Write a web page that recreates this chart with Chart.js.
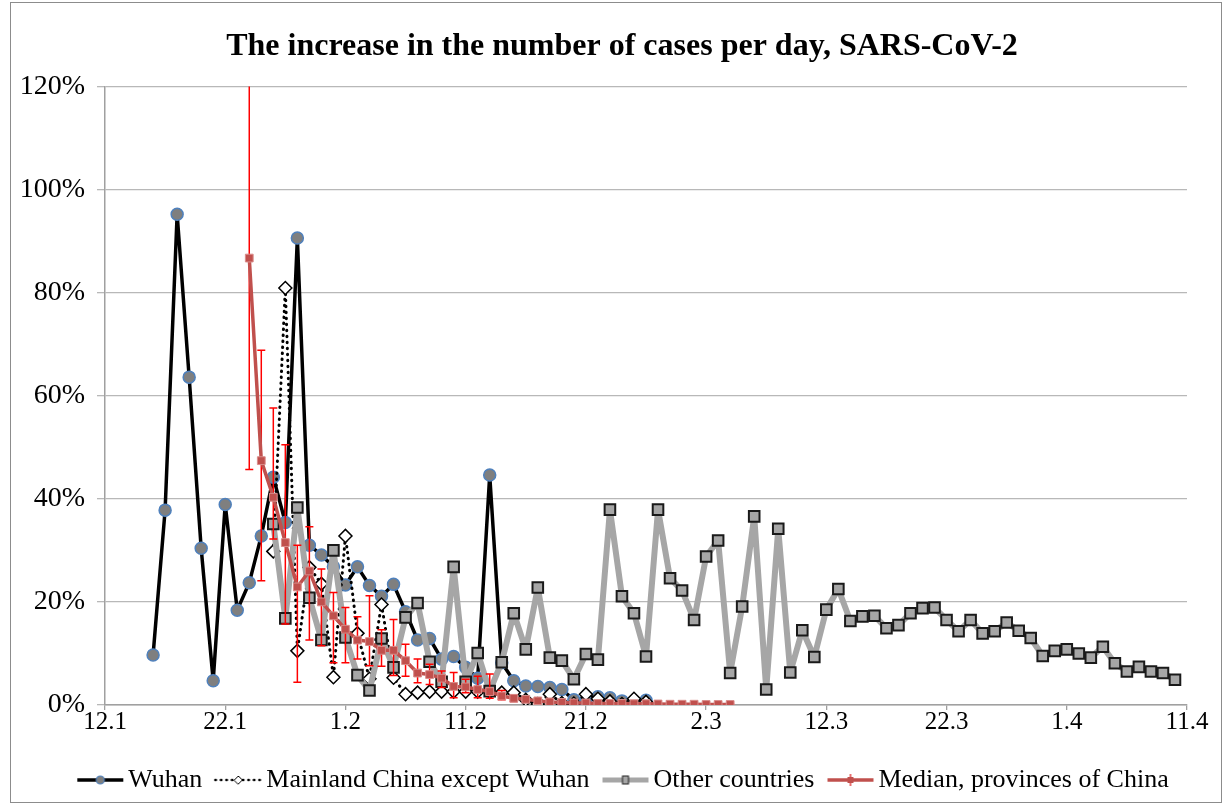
<!DOCTYPE html>
<html>
<head>
<meta charset="utf-8">
<script src="https://cdn.jsdelivr.net/npm/chart.js@4.4.0/dist/chart.umd.min.js"></script>
<style>
  html, body { margin: 0; padding: 0; background: #fff; }
  #wrap { position: relative; width: 1232px; height: 805px; }
  #frame { position: absolute; left: 10px; top: 2px; width: 1212px; height: 801px;
           border: 1px solid #8c8c8c; box-sizing: border-box; pointer-events: none; }
</style>
</head>
<body>
<div id="wrap">
  <canvas id="chart" width="1232" height="805"></canvas>
  <div id="frame"></div>
</div>
<script>
// x axis = days counted from 12.1 (12 January), one label every 10 days
const tickLabels = ["12.1", "22.1", "1.2", "11.2", "21.2", "2.3", "12.3", "22.3", "1.4", "11.4"];

// Wuhan, from day 4 (16.1)
const wuhanStart = 4;
const wuhan = [9.7, 37.8, 95.2, 63.6, 30.4, 4.7, 38.9, 18.4, 23.7, 32.8,
  44.2, 35.4, 90.6, 31.0, 29.1, 26.8, 23.3, 26.8, 23.2, 21.1,
  23.4, 18.1, 12.6, 12.9, 8.9, 9.4, 7.3, 5.2, 44.6, 8.2,
  4.7, 3.7, 3.6, 3.4, 3.0, 1.0, 0.7, 1.6, 1.4, 0.8, 0.6, 0.9];

// Mainland China except Wuhan, from day 14 (26.1)
const chinaStart = 14;
const china = [29.8, 80.9, 10.5, 26.7, 23.5, 5.4, 32.8, 13.9, 5.1, 19.5,
  5.3, 2.1, 2.4, 2.6, 2.6, 2.6, 2.6, 2.6, 2.5, 2.4,
  2.4, 1.0, 0.2, 2.1, 0.4, 0.3, 2.1, 1.2, 0.7, 0.2, 1.2, 0.6];

// Other countries, from day 14 (26.1)
const otherStart = 14;
const other = [35.1, 16.8, 38.3, 20.8, 12.6, 30.0, 13.1, 5.8, 2.8, 12.9,
  7.3, 17.0, 19.8, 8.4, 4.5, 26.8, 4.5, 10.1, 2.7, 8.3,
  17.8, 10.8, 22.8, 9.2, 8.6, 5.0, 9.9, 8.8, 37.9, 21.1,
  17.8, 9.4, 37.9, 24.6, 22.2, 16.5, 28.8, 31.9, 6.2, 19.1,
  36.6, 3.0, 34.2, 6.3, 14.5, 9.3, 18.5, 22.5, 16.3, 17.2,
  17.3, 14.9, 15.5, 17.8, 18.8, 18.9, 16.5, 14.3, 16.5, 13.9,
  14.3, 16.0, 14.4, 13.0, 9.5, 10.5, 10.8, 10.0, 9.2, 11.3,
  8.1, 6.5, 7.4, 6.5, 6.2, 4.9];

// Median of the provinces of China, from day 12 (24.1), with error bar ends
const medianStart = 12;
const median = [86.7, 47.4, 40.3, 31.5, 22.9, 26.0, 20.0, 17.3, 14.7, 12.6,
  12.3, 10.6, 10.6, 8.6, 6.2, 5.9, 5.2, 3.6, 3.5, 3.0,
  2.6, 1.75, 1.3, 1.1, 0.8, 0.6, 0.5, 0.4, 0.4, 0.3,
  0.3, 0.3, 0.25, 0.25, 0.2, 0.15, 0.15, 0.15, 0.1, 0.1, 0.1];
const medianLow = [45.7, 24.1, 32.2, 15.7, 4.4, 12.6, 11.5, 8.2, 8.2, 8.9,
  7.6, 7.5, 5.7, 5.6, 4.3, 4.0, 3.4, 1.4, 2.4, 1.4,
  1.3, 1.0, 0.7, 0.6, 0.5, 0.3, 0.3, 0.2, 0.2, 0.2,
  0.2, 0.2, 0.1, 0.1, 0.1, 0.1, 0.1, 0.1, 0.0, 0.0, 0.0];
const medianHigh = [135, 68.8, 57.6, 50.5, 31.0, 34.6, 26.4, 21.8, 18.9, 17.1,
  21.2, 14.6, 16.6, 11.8, 8.9, 7.9, 6.6, 6.3, 5.0, 5.6,
  6.0, 2.8, 2.0, 1.6, 1.2, 0.9, 0.8, 0.7, 0.6, 0.5,
  0.5, 0.4, 0.4, 0.4, 0.3, 0.3, 0.2, 0.2, 0.2, 0.2, 0.2];

const serif = "'Liberation Serif', 'Times New Roman', serif";

function toPoints(start, values) {
  return values.map((v, i) => ({ x: start + i, y: v }));
}

// small line+marker samples for the legend, like the spreadsheet legend
function legendIcon(drawMarker, lineStyle) {
  const c = document.createElement("canvas");
  c.width = 64;
  c.height = 20;
  const g = c.getContext("2d");
  g.strokeStyle = lineStyle.color;
  g.lineWidth = lineStyle.width;
  if (lineStyle.dash) {
    g.setLineDash(lineStyle.dash);
    g.lineCap = "round";
  }
  g.beginPath();
  g.moveTo(14, 10);
  g.lineTo(60, 10);
  g.stroke();
  g.setLineDash([]);
  drawMarker(g, 37, 10);
  return c;
}

const icons = [
  legendIcon((g, x, y) => {
    g.beginPath(); g.arc(x, y, 4, 0, Math.PI * 2);
    g.fillStyle = "#7f7f7f"; g.fill();
    g.strokeStyle = "#4f81bd"; g.lineWidth = 1.2; g.stroke();
  }, { color: "#000", width: 3.5 }),
  legendIcon((g, x, y) => {
    g.beginPath(); g.moveTo(x - 4, y); g.lineTo(x, y - 4); g.lineTo(x + 4, y); g.lineTo(x, y + 4); g.closePath();
    g.fillStyle = "#fff"; g.fill();
    g.strokeStyle = "#000"; g.lineWidth = 1; g.stroke();
  }, { color: "#000", width: 2.5, dash: [0.5, 5] }),
  legendIcon((g, x, y) => {
    g.fillStyle = "#a6a6a6"; g.fillRect(x - 3, y - 4, 6, 8);
    g.strokeStyle = "#222"; g.lineWidth = 1; g.strokeRect(x - 3, y - 4, 6, 8);
  }, { color: "#a6a6a6", width: 5 }),
  legendIcon((g, x, y) => {
    g.strokeStyle = "#e04040"; g.lineWidth = 1.5;
    g.beginPath(); g.moveTo(x, y - 6); g.lineTo(x, y + 6); g.stroke();
    g.fillStyle = "#c0504d"; g.fillRect(x - 3, y - 3, 6, 6);
  }, { color: "#c0504d", width: 3.5 })
];

// red error bars of the median, drawn just before the median series
const errorBars = {
  id: "errorBars",
  afterDatasetDraw(chart, args) {
    if (args.index !== 2) return;
    const { ctx, chartArea, scales } = chart;
    const x = scales.x, y = scales.y;
    ctx.save();
    ctx.beginPath();
    ctx.rect(chartArea.left, chartArea.top, chartArea.right - chartArea.left, chartArea.bottom - chartArea.top);
    ctx.clip();
    ctx.strokeStyle = "#ff0000";
    ctx.lineWidth = 1.5;
    median.forEach((m, i) => {
      const px = x.getPixelForValue(medianStart + i);
      const top = y.getPixelForValue(medianHigh[i]);
      const bot = y.getPixelForValue(medianLow[i]);
      ctx.beginPath();
      ctx.moveTo(px, top); ctx.lineTo(px, bot);
      ctx.moveTo(px - 4, top); ctx.lineTo(px + 4, top);
      ctx.moveTo(px - 4, bot); ctx.lineTo(px + 4, bot);
      ctx.stroke();
    });
    ctx.restore();
  }
};

Chart.defaults.font.family = serif;
Chart.defaults.color = "#000";

new Chart(document.getElementById("chart"), {
  type: "line",
  data: {
    datasets: [
      {
        label: "Wuhan",
        data: toPoints(wuhanStart, wuhan),
        borderColor: "#000",
        borderWidth: 3.5,
        borderJoinStyle: "round",
        pointStyle: "circle",
        pointRadius: 6,
        pointBackgroundColor: "#7f7f7f",
        pointBorderColor: "#4f81bd",
        pointBorderWidth: 1.5,
        order: 4
      },
      {
        label: "Mainland China except Wuhan",
        data: toPoints(chinaStart, china),
        borderColor: "#000",
        borderWidth: 3,
        borderDash: [0.5, 5.5],
        borderCapStyle: "round",
        borderJoinStyle: "round",
        pointStyle: "rectRot",
        pointRadius: 6.5,
        pointBackgroundColor: "#fff",
        pointBorderColor: "#000",
        pointBorderWidth: 1.5,
        order: 3
      },
      {
        label: "Other countries",
        data: toPoints(otherStart, other),
        borderColor: "#a6a6a6",
        borderWidth: 6,
        borderJoinStyle: "round",
        pointStyle: "rect",
        pointRadius: 7.5,
        pointBackgroundColor: "#a6a6a6",
        pointBorderColor: "#1a1a1a",
        pointBorderWidth: 2,
        order: 2
      },
      {
        label: "Median, provinces of China",
        data: toPoints(medianStart, median),
        borderColor: "#c0504d",
        borderWidth: 3.5,
        borderJoinStyle: "round",
        pointStyle: "rect",
        pointRadius: 5.5,
        pointBackgroundColor: "#c0504d",
        pointBorderColor: "#d98c8a",
        pointBorderWidth: 1,
        order: 1
      }
    ]
  },
  options: {
    responsive: false,
    animation: false,
    events: [],
    layout: { padding: { left: 12, right: 0, top: 6, bottom: 2 } },
    elements: { line: { tension: 0 } },
    plugins: {
      title: {
        display: true,
        text: "The increase in the number of cases per day, SARS-CoV-2",
        font: { family: serif, size: 32, weight: "bold" },
        color: "#000",
        padding: { top: 22, bottom: 20 }
      },
      legend: {
        position: "bottom",
        labels: {
          usePointStyle: true,
          pointStyleWidth: 40,
          padding: 11,
          font: { family: serif, size: 26 },
          color: "#000",
          generateLabels: (chart) => chart.data.datasets.map((ds, i) => ({
            text: ds.label,
            pointStyle: icons[i],
            fillStyle: "transparent",
            strokeStyle: "transparent",
            lineWidth: 0,
            hidden: false,
            datasetIndex: i,
            fontColor: "#000"
          }))
        }
      },
      tooltip: { enabled: false }
    },
    scales: {
      x: {
        type: "linear",
        min: 0,
        max: 90,
        ticks: {
          stepSize: 10,
          autoSkip: false,
          maxRotation: 0,
          padding: -3,
          font: { family: serif, size: 25 },
          callback: (v) => tickLabels[v / 10]
        },
        grid: { drawOnChartArea: false, drawTicks: true, tickLength: 5, color: "#a0a0a0", lineWidth: 1.3 },
        border: { color: "#a0a0a0", width: 1.5 },
        afterFit: (scale) => { scale.height = 51; }
      },
      y: {
        min: 0,
        max: 120,
        ticks: {
          stepSize: 20,
          padding: 12,
          font: { family: serif, size: 28 },
          callback: (v) => v + "%"
        },
        grid: { color: "#b8b8b8", lineWidth: 1.3, tickLength: 8 },
        border: { color: "#a0a0a0", width: 1.5 },
        afterFit: (scale) => { scale.width = 93; }
      },
      // empty right-hand axis, only keeps the plot's right margin
      yRight: {
        position: "right",
        min: 0,
        max: 120,
        ticks: { display: false },
        grid: { display: false },
        border: { display: false },
        afterFit: (scale) => { scale.width = 45; }
      }
    }
  },
  plugins: [errorBars]
});
</script>
</body>
</html>
